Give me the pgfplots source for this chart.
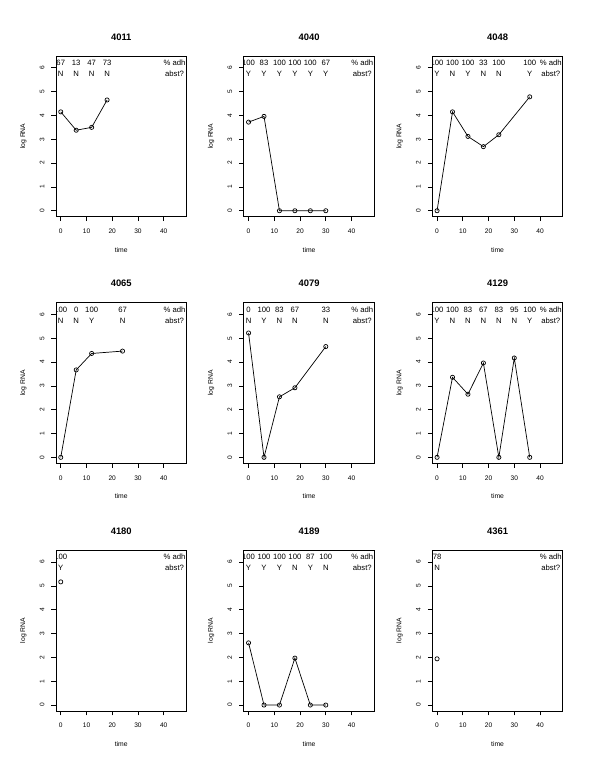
\documentclass[border=0pt]{standalone}
\usepackage{pgfplots}
\pgfplotsset{compat=1.18}
\usepackage{fontspec}
\setmainfont{Liberation Sans}
\tikzset{annot/.style={anchor=base, inner sep=0pt, font=\fontsize{7.7bp}{8bp}\selectfont}}
\pgfplotsset{
  rpanel/.style={
    scale only axis, width=130.5bp, height=160.8bp,
    xmin=-1.85, xmax=48.85, ymin=-0.25, ymax=6.5,
    xtick={0,10,20,30,40}, ytick={0,1,2,3,4,5,6},
    xtick pos=lower, ytick pos=left,
    tick align=outside, major tick length=4.5bp,
    axis line style={line width=0.7bp, black},
    every tick/.style={line width=0.7bp, black},
    /pgf/number format/assume math mode=true,
    ticklabel style={font=\fontsize{6.6bp}{7bp}\selectfont, inner sep=0pt},
    xticklabel style={anchor=center, yshift=-10.2bp},
    yticklabel style={xshift=-9.4bp, rotate=90, anchor=center},
    every axis title shift=0pt,
    title style={font=\bfseries\fontsize{9.4bp}{10bp}\selectfont, at={(0.5,1.118)}, anchor=center, inner sep=0pt},
    xlabel style={font=\fontsize{6.8bp}{7bp}\selectfont, at={(0.5,-0.205)}, anchor=center, inner sep=0pt},
    ylabel style={font=\fontsize{6.8bp}{7bp}\selectfont, at={(-0.25,0.5)}, anchor=center, inner sep=0pt},
    xlabel={time}, ylabel={log RNA},
  },
  rline/.style={black, line width=0.7bp, mark=o, mark size=2.1bp,
    mark options={fill=white, line width=0.7bp, solid}},
}
\newcommand{\ann}[3]{%
  \node[annot] at (axis cs:#1,6.09) {#2};
  \node[annot] at (axis cs:#1,5.63) {#3};}
\newcommand{\hdr}{%
  \node[annot] at (axis cs:44.2,6.09) {\% adh};
  \node[annot] at (axis cs:44.2,5.63) {abst?};}
\begin{document}
\begin{tikzpicture}
\useasboundingbox (0,0) rectangle (600bp,776bp);
% Row 1
\begin{axis}[rpanel, at={(56bp,559.3bp)}, anchor=south west, title={4011}]
\addplot[rline] coordinates {(0,4.15) (6,3.38) (12,3.5) (18,4.65)};
\ann{0}{67}{N}\ann{6}{13}{N}\ann{12}{47}{N}\ann{18}{73}{N}
\hdr
\end{axis}
\begin{axis}[rpanel, at={(243.8bp,559.3bp)}, anchor=south west, title={4040}]
\addplot[rline] coordinates {(0,3.72) (6,3.96) (12,0) (18,0) (24,0) (30,0)};
\ann{0}{100}{Y}\ann{6}{83}{Y}\ann{12}{100}{Y}\ann{18}{100}{Y}\ann{24}{100}{Y}\ann{30}{67}{Y}
\hdr
\end{axis}
\begin{axis}[rpanel, at={(432.3bp,559.3bp)}, anchor=south west, title={4048}]
\addplot[rline] coordinates {(0,0) (6,4.15) (12,3.12) (18,2.69) (24,3.19) (36,4.78)};
\ann{0}{100}{Y}\ann{6}{100}{N}\ann{12}{100}{Y}\ann{18}{33}{N}\ann{24}{100}{N}\ann{36}{100}{Y}
\hdr
\end{axis}
% Row 2
\begin{axis}[rpanel, at={(56bp,312.7bp)}, anchor=south west, title={4065}]
\addplot[rline] coordinates {(0,0) (6,3.67) (12,4.36) (24,4.46)};
\ann{0}{100}{N}\ann{6}{0}{N}\ann{12}{100}{Y}\ann{24}{67}{N}
\hdr
\end{axis}
\begin{axis}[rpanel, at={(243.8bp,312.7bp)}, anchor=south west, title={4079}]
\addplot[rline] coordinates {(0,5.22) (6,0) (12,2.54) (18,2.92) (30,4.65)};
\ann{0}{0}{N}\ann{6}{100}{Y}\ann{12}{83}{N}\ann{18}{67}{N}\ann{30}{33}{N}
\hdr
\end{axis}
\begin{axis}[rpanel, at={(432.3bp,312.7bp)}, anchor=south west, title={4129}]
\addplot[rline] coordinates {(0,0) (6,3.36) (12,2.65) (18,3.96) (24,0) (30,4.17) (36,0)};
\ann{0}{100}{Y}\ann{6}{100}{N}\ann{12}{83}{N}\ann{18}{67}{N}\ann{24}{83}{N}\ann{30}{95}{N}\ann{36}{100}{Y}
\hdr
\end{axis}
% Row 3
\begin{axis}[rpanel, at={(56bp,65bp)}, anchor=south west, title={4180}]
\addplot[rline] coordinates {(0,5.17)};
\ann{0}{100}{Y}
\hdr
\end{axis}
\begin{axis}[rpanel, at={(243.8bp,65bp)}, anchor=south west, title={4189}]
\addplot[rline] coordinates {(0,2.61) (6,0) (12,0) (18,1.97) (24,0) (30,0)};
\ann{0}{100}{Y}\ann{6}{100}{Y}\ann{12}{100}{Y}\ann{18}{100}{N}\ann{24}{87}{Y}\ann{30}{100}{N}
\hdr
\end{axis}
\begin{axis}[rpanel, at={(432.3bp,65bp)}, anchor=south west, title={4361}]
\addplot[rline] coordinates {(0,1.94)};
\ann{0}{78}{N}
\hdr
\end{axis}
\end{tikzpicture}
\end{document}
